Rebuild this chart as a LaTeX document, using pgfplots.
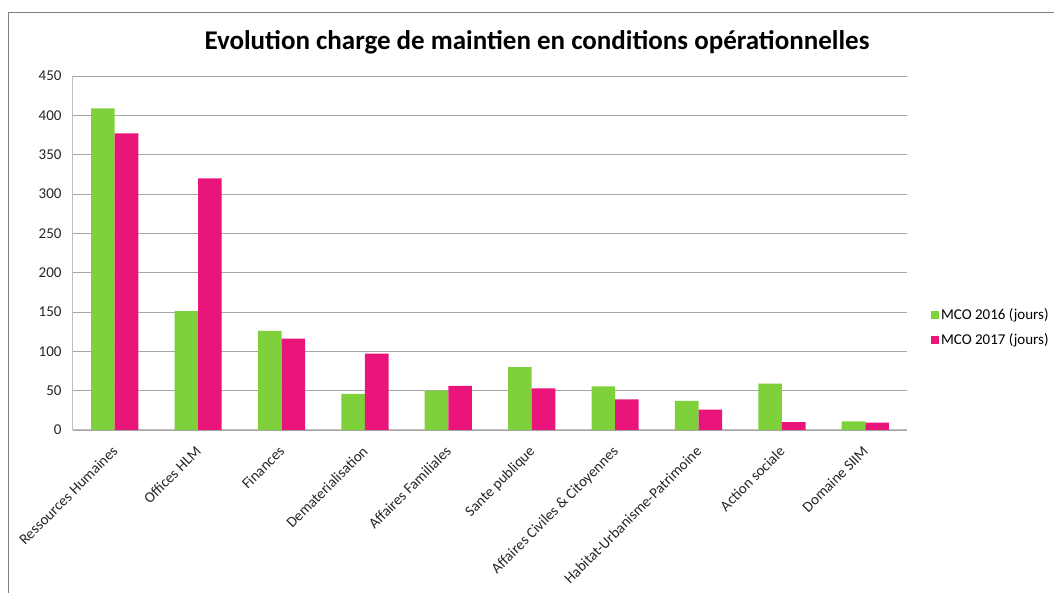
\documentclass[border=0pt]{standalone}
\usepackage{pgfplots}
\pgfplotsset{compat=1.18}
\usepackage{fontspec}
\setmainfont{Carlito}
\definecolor{cgreen}{HTML}{7FD13B}
\definecolor{cpink}{HTML}{EA157A}
\definecolor{cgrid}{HTML}{A6A6A6}
\definecolor{caxis}{HTML}{BFBFBF}
\begin{document}
\begin{tikzpicture}[x=1pt,y=1pt]
\fill[white] (0,0) rectangle (1054,593);
\draw[line width=1pt, color=black!50] (8,-20) -- (8,580) -- (1070,580);
\node[font=\fontsize{27}{32}\selectfont\bfseries] at (537,551) {Evolution charge de maintien en conditions opérationnelles};
\begin{axis}[
  at={(73pt,163pt)}, anchor=south west,
  scale only axis, width=834pt, height=354pt,
  ybar=0pt, bar width=23.6pt,
  xmin=-0.5, xmax=9.5, ymin=0, ymax=450,
  ytick={0,50,...,450},
  xtick={0,...,9},
  xticklabels={Ressources Humaines, Offices HLM, Finances, Dematerialisation, Affaires Familiales, Sante publique, Affaires Civiles \& Citoyennes, Habitat-Urbanisme-Patrimoine, Action sociale, Domaine SIIM},
  /pgf/number format/assume math mode=true,
  tick label style={font=\fontsize{15}{18}\selectfont, text=black!85},
  xticklabel style={rotate=45, anchor=north east, inner sep=1pt, xshift=-12pt, yshift=-7pt},
  yticklabel style={xshift=-8pt},
  major tick length=0pt,
  axis x line=bottom, axis y line=left,
  axis line style={color=caxis, line width=1pt, -},
  ymajorgrids, grid style={color=cgrid, line width=0.9pt},
  legend style={at={(1.025,0.29)}, anchor=west, draw=none, fill=none,
    font=\fontsize{15}{18}\selectfont, row sep=8pt,
    legend cell align=left},
  legend image code/.code={\fill[#1] (0pt,-4pt) rectangle (8pt,4pt);},
  every axis plot/.append style={draw=none},
]
\addplot[fill=cgreen] coordinates {(0,409) (1,151) (2,126) (3,46) (4,50) (5,80) (6,55.5) (7,37) (8,59) (9,11)};
\addplot[fill=cpink] coordinates {(0,377) (1,320) (2,116) (3,97) (4,56) (5,53) (6,39) (7,26) (8,10) (9,9.5)};
\legend{MCO 2016 (jours), MCO 2017 (jours)}
\end{axis}
\pgfresetboundingbox
\useasboundingbox (0,0) rectangle (1054,593);
\end{tikzpicture}
\end{document}
